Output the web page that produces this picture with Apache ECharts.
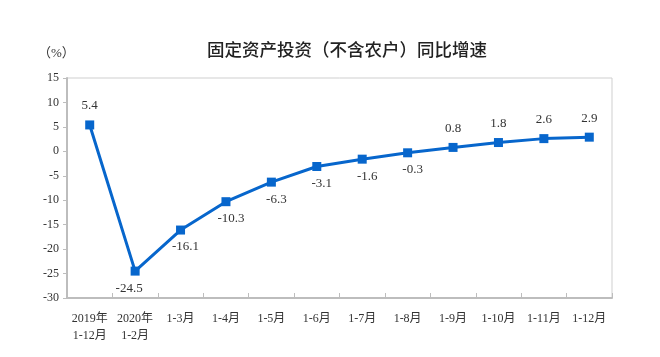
<!DOCTYPE html>
<html><head><meta charset="utf-8">
<script src="https://cdn.jsdelivr.net/npm/echarts@6/dist/echarts.min.js"></script>
<style>html,body{margin:0;padding:0;background:#fff}#c{width:660px;height:357px}</style>
</head><body><div id="c"></div>
<script>
const categories = ['2019年\n1-12月','2020年\n1-2月','1-3月','1-4月','1-5月','1-6月','1-7月','1-8月','1-9月','1-10月','1-11月','1-12月'];
const values = [5.4,-24.5,-16.1,-10.3,-6.3,-3.1,-1.6,-0.3,0.8,1.8,2.6,2.9];
const yTicks = [15,10,5,0,-5,-10,-15,-20,-25,-30];

const serif = '"Liberation Serif","Times New Roman","Noto Sans CJK SC",serif';
const chart = echarts.init(document.getElementById('c'), null, {renderer:'canvas'});
const data = values.map((v,i)=>{
  const item = {value:v, label:{}};
  if (v >= 0) { item.label.position='top'; item.label.distance=8; }
  else { item.label.position='bottom'; item.label.distance=6; item.label.offset = (i===1)?[-6,0]:[5,0]; }
  return item;
});
chart.setOption({
  animation:false,
  title:{text:'固定资产投资（不含农户）同比增速', left:342, textAlign:'center', top:36,
    textStyle:{fontFamily:'"Noto Sans CJK SC",sans-serif', fontSize:17.5, fontWeight:500, color:'#222'}},
  graphic:[{type:'text', left:38, top:47, style:{text:'（%）', font:'13px '+serif, fill:'#333'}}],
  grid:{left:67, right:48, top:78, bottom:59, show:true, borderColor:'#cfcfcf', borderWidth:1},
  xAxis:{type:'category', data:categories, boundaryGap:true,
    axisLine:{onZero:false, lineStyle:{color:'#bdbdbd', width:2}},
    axisTick:{show:true, inside:true, length:5, lineStyle:{color:'#bdbdbd'}},
    axisLabel:{color:'#333', fontFamily:serif, fontSize:12, lineHeight:17, interval:0, margin:12, align:'center'}},
  yAxis:{type:'value', min:yTicks[yTicks.length-1], max:yTicks[0], interval:5,
    axisLine:{show:true, lineStyle:{color:'#bdbdbd', width:2}},
    axisTick:{show:true, length:4, lineStyle:{color:'#bdbdbd'}},
    splitLine:{show:false},
    axisLabel:{color:'#333', fontFamily:serif, fontSize:12, margin:8}},
  series:[{type:'line', data:data, symbol:'rect', symbolSize:9,
    lineStyle:{color:'#0766cc', width:3}, itemStyle:{color:'#0766cc'},
    label:{show:true, color:'#333', fontFamily:serif, fontSize:13, formatter:p=>p.value.toFixed(1)}}]
});
</script></body></html>
